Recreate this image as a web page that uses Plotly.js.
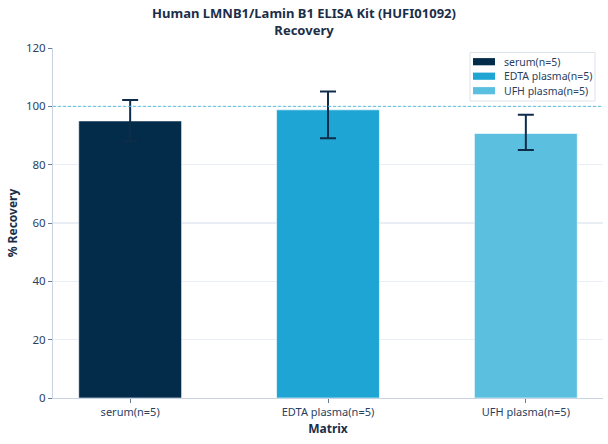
<!DOCTYPE html>
<html>
<head>
<meta charset="utf-8">
<script src="https://cdn.plot.ly/plotly-3.0.1.min.js"></script>
<style>html,body{margin:0;padding:0;background:#fff}#chart{width:608px;height:444px}</style>
</head>
<body>
<div id="chart"></div>
<script>
var categories = ["serum(n=5)", "EDTA plasma(n=5)", "UFH plasma(n=5)"];
var recovery = [95, 98.8, 90.7];
var errorPlus = [7.2, 6.3, 6.4];
var errorMinus = [7.0, 9.7, 5.7];
var colors = ["#032B4A", "#1FA5D3", "#5BBFE0"];
var yTicks = [0, 20, 40, 60, 80, 100, 120];

var font = "'Noto Sans', 'Open Sans', sans-serif";
var W = 608, H = 444, M = { l: 53, r: 5, t: 48, b: 46 };
var pw = W - M.l - M.r, ph = H - M.t - M.b;
function px2x(p) { return (p - M.l) / pw; }
function py2y(p) { return (H - M.b - p) / ph; }

var traces = categories.map(function (c, i) {
  return {
    type: "bar",
    name: c,
    x: [c],
    y: [recovery[i]],
    width: 0.52,
    showlegend: false,
    marker: { color: colors[i], line: { color: "rgba(255,255,255,0.6)", width: 1 } },
    error_y: {
      type: "data", symmetric: false,
      array: [errorPlus[i]], arrayminus: [errorMinus[i]],
      color: "#0F2D4A", thickness: 2, width: 8
    }
  };
});

var shapes = [{
  type: "line", xref: "paper", yref: "y", x0: 0, x1: 1, y0: 100, y1: 100,
  line: { color: "#5BC0DE", width: 1, dash: "3px,2px" }, layer: "above"
}];
var annotations = [];

// custom legend
shapes.push({
  type: "rect", xref: "paper", yref: "paper",
  x0: px2x(470), x1: px2x(595), y0: py2y(101), y1: py2y(52.5),
  fillcolor: "#fff", line: { color: "#DDE3EA", width: 1 }, layer: "above"
});
var rowY = [61.7, 76.2, 90.7];
categories.forEach(function (c, i) {
  shapes.push({
    type: "rect", xref: "paper", yref: "paper",
    x0: px2x(473), x1: px2x(495), y0: py2y(rowY[i] + 3.6), y1: py2y(rowY[i] - 3.6),
    fillcolor: colors[i], line: { width: 0 }, layer: "above"
  });
  annotations.push({
    xref: "paper", yref: "paper", x: px2x(502), y: py2y(rowY[i]),
    xanchor: "left", yanchor: "middle", showarrow: false, text: c,
    font: { family: font, size: 10.5, color: "#2A3F5F" }
  });
});

var layout = {
  width: W, height: H,
  margin: M,
  paper_bgcolor: "#fff", plot_bgcolor: "#fff",
  font: { family: font, size: 11, color: "#2A3F5F" },
  barmode: "overlay",
  showlegend: false,
  title: {
    text: "<b>Human LMNB1/Lamin B1 ELISA Kit (HUFI01092)<br>Recovery</b>",
    x: 0.5, xanchor: "center", xref: "container",
    y: 1 - 18 / H, yanchor: "middle", yref: "container",
    font: { family: font, size: 13, color: "#1B2E48" }
  },
  xaxis: {
    type: "category",
    range: [-0.39, 2.39],
    title: { text: "<b>Matrix</b>", font: { family: font, size: 12, color: "#1B2E48" }, standoff: 6 },
    showline: true, linecolor: "#C8D4E3", linewidth: 1,
    ticks: "outside", ticklen: 4, tickcolor: "#6B7C93",
    showgrid: false, zeroline: false,
    tickfont: { family: font, size: 11, color: "#2A3F5F" }
  },
  yaxis: {
    range: [0, 120],
    tickvals: yTicks,
    title: { text: "<b>% Recovery</b>", font: { family: font, size: 12, color: "#1B2E48" }, standoff: 5 },
    showline: true, linecolor: "#C8D4E3", linewidth: 1,
    ticks: "outside", ticklen: 4, tickcolor: "#6B7C93",
    showgrid: true, gridcolor: "#E8EEF4", gridwidth: 1.5,
    zeroline: false,
    tickfont: { family: font, size: 11.5, color: "#2A3F5F" }
  },
  shapes: shapes,
  annotations: annotations
};

Plotly.newPlot("chart", traces, layout, { displayModeBar: false, staticPlot: true });
</script>
</body>
</html>
